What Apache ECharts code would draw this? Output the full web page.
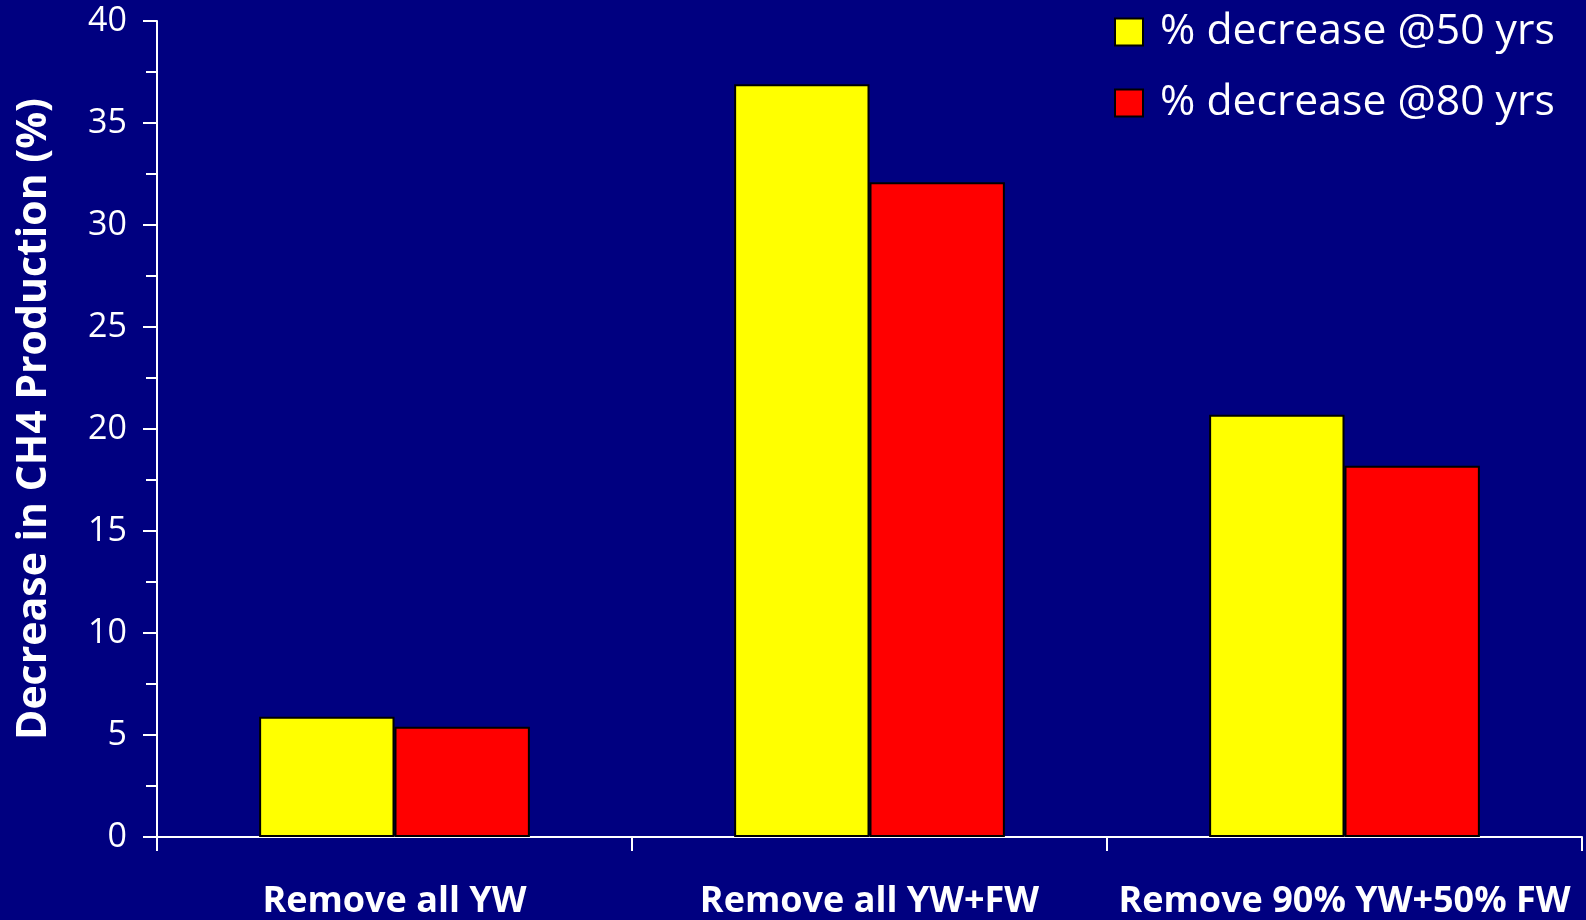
<!DOCTYPE html>
<html>
<head>
<meta charset="utf-8">
<script src="https://cdn.jsdelivr.net/npm/echarts@6/dist/echarts.min.js"></script>
<style>
  html, body { margin: 0; padding: 0; background: #000080; }
  #chart { width: 1586px; height: 920px; }
</style>
</head>
<body>
<div id="chart"></div>
<script>
// Scenarios along the x axis
const categories = ['Remove all YW', 'Remove all YW+FW', 'Remove 90% YW+50% FW'];
// Percent decrease in CH4 production
const decrease50 = [5.9, 36.9, 20.7];
const decrease80 = [5.4, 32.1, 18.2];
const seriesNames = ['% decrease @50 yrs', '% decrease @80 yrs'];
const yTicks = { min: 0, max: 40, interval: 5 };

const FONT = '"Open Sans", sans-serif';
const chart = echarts.init(document.getElementById('chart'));

chart.setOption({
  backgroundColor: '#000080',
  animation: false,
  grid: { left: 157, right: 4, top: 21, bottom: 82, containLabel: false },
  legend: {
    orient: 'vertical',
    left: 1114,
    top: 6,
    padding: 0,
    itemWidth: 28,
    itemHeight: 27,
    itemGap: 19,
    icon: 'rect',
    textStyle: { color: '#ffffff', fontSize: 42.7, lineHeight: 42, fontFamily: FONT, padding: [10, 0, 0, 12] },
    data: seriesNames
  },
  xAxis: {
    type: 'category',
    data: categories,
    axisLine: { lineStyle: { color: '#ffffff', width: 2 } },
    axisTick: { show: true, length: 14, lineStyle: { color: '#ffffff', width: 2 } },
    axisLabel: { interval: 0, color: '#ffffff', fontSize: 36, fontWeight: 'bold', fontFamily: FONT, margin: 47 }
  },
  yAxis: {
    type: 'value',
    min: yTicks.min,
    max: yTicks.max,
    interval: yTicks.interval,
    name: 'Decrease in CH4 Production (%)',
    nameLocation: 'middle',
    nameGap: 102,
    nameTextStyle: { color: '#ffffff', fontSize: 41, fontWeight: 'bold', fontFamily: FONT, padding: [0, 0, 0, 20] },
    axisLine: { show: true, lineStyle: { color: '#ffffff', width: 2 } },
    axisTick: { show: true, length: 14, lineStyle: { color: '#ffffff', width: 2 } },
    minorTick: { show: true, splitNumber: 2, length: 11, lineStyle: { color: '#ffffff', width: 2 } },
    splitLine: { show: false },
    axisLabel: { color: '#ffffff', fontSize: 34, fontFamily: FONT, margin: 30 }
  },
  series: [
    {
      name: seriesNames[0],
      type: 'bar',
      data: decrease50,
      barGap: '0%',
      barCategoryGap: '43%',
      itemStyle: { color: '#ffff00', borderColor: '#000000', borderWidth: 2 }
    },
    {
      name: seriesNames[1],
      type: 'bar',
      data: decrease80,
      itemStyle: { color: '#ff0000', borderColor: '#000000', borderWidth: 2 }
    }
  ]
});
</script>
</body>
</html>
